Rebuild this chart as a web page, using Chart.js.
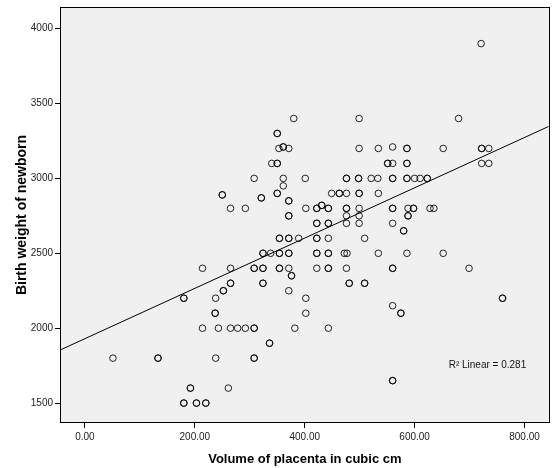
<!DOCTYPE html>
<html><head><meta charset="utf-8">
<script src="https://cdn.jsdelivr.net/npm/chart.js@4.4.1/dist/chart.umd.min.js"></script>
<style>html,body{margin:0;padding:0;background:#fff;}canvas{display:block;}</style>
</head><body>
<canvas id="c" width="553" height="468"></canvas>
<script>
// Volume of placenta (cubic cm) for each newborn
const placentaVolume = [
  250,265,214,265,265,252,180,238,237,214,243,265,51,133,238,192,261,180,203,220,
  380,499,350,353,361,371,499,534,560,340,350,551,560,
  308,361,401,476,498,521,533,560,361,
  350,449,463,476,499,534,321,371,
  292,402,422,443,476,499,560,431,371,476,499,
  422,443,476,499,560,354,371,389,422,443,509,
  324,338,354,371,422,443,472,477,534,
  308,324,354,371,422,443,476,560,376,324,481,509,
  371,402,402,560,278,292,308,382,443,336,308,560,
  680,586,652,722,735,586,722,735,586,600,610,623,
  588,598,628,635,588,580,586,652,699,760,575,721,
  // repeated cases (overlapping markers)
  250,265,252,180,237,133,192,180,203,220,350,361,350,551,476,498,560,350,463,499,
  321,371,422,443,476,560,431,371,422,443,354,371,422,324,354,371,422,443,308,324,
  354,443,560,376,324,481,509,308,336,308,560,586,722,586,586,623,598,588,580,760,575
];
// Birth weight of newborn (g)
const birthWeight = [
  2890,2800,2400,2400,2300,2250,2200,2200,2100,2000,2000,2000,1800,1800,1800,1600,1600,1500,1500,1500,
  3400,3400,3300,3200,3210,3200,3200,3200,3210,3100,3100,3100,3100,
  3000,3000,3000,3000,3000,3000,3000,3000,2950,
  2900,2900,2900,2900,2900,2900,2870,2850,
  2800,2800,2800,2800,2800,2800,2800,2820,2750,2750,2750,
  2700,2700,2700,2700,2700,2600,2600,2600,2600,2600,2600,
  2500,2500,2500,2500,2500,2500,2500,2500,2500,
  2400,2400,2400,2400,2400,2400,2400,2400,2350,2300,2300,2300,
  2250,2200,2100,2150,2000,2000,2000,2000,2000,1900,1800,1650,
  3400,3200,3200,3200,3200,3100,3100,3100,3000,3000,3000,3000,
  2800,2800,2800,2800,2750,2650,2500,2500,2400,2200,2100,3900,
  // repeated cases (overlapping markers)
  2890,2300,2250,2200,2100,1800,1600,1500,1500,1500,3300,3210,3100,3100,3000,3000,3000,2900,2900,2900,
  2870,2850,2800,2800,2800,2800,2820,2750,2700,2700,2600,2600,2600,2500,2500,2500,2500,2500,2400,2400,
  2400,2400,2400,2350,2300,2300,2300,2000,1900,1800,1650,3200,3200,3100,3000,3000,2800,2750,2650,2200,2100
];
// Fitted linear regression line (read at the axis limits)
const fitLineX = [-43.5, 844];
const fitLineY = [1857, 3347];
const xTicks = [0, 200, 400, 600, 800];
const yTicks = [1500, 2000, 2500, 3000, 3500, 4000];
const xTitle = 'Volume of placenta in cubic cm';
const yTitle = 'Birth weight of newborn';
const fitLabel = 'R\u00B2 Linear = 0.281';

const FONT = "Arial, 'Liberation Sans', sans-serif";
const points = placentaVolume.map((v, i) => ({x: v, y: birthWeight[i]}));
const line = fitLineX.map((v, i) => ({x: v, y: fitLineY[i]}));

const framePlugin = {
  id: 'frame',
  beforeDraw(chart) {
    const {ctx, chartArea: a} = chart;
    ctx.save();
    ctx.fillStyle = '#F0F0F0';
    ctx.fillRect(a.left, a.top, a.right - a.left, a.bottom - a.top);
    ctx.restore();
  },
  afterDraw(chart) {
    const {ctx, chartArea: a, scales} = chart;
    ctx.save();
    ctx.strokeStyle = '#000';
    ctx.lineWidth = 1;
    ctx.strokeRect(Math.round(a.left) - 0.5, Math.round(a.top) - 0.5,
                   Math.round(a.right - a.left) + 1, Math.round(a.bottom - a.top) + 1);
    ctx.fillStyle = '#111';
    ctx.font = '10px ' + FONT;
    ctx.textBaseline = 'middle';
    ctx.textAlign = 'left';
    ctx.fillText(fitLabel, scales.x.getPixelForValue(662), scales.y.getPixelForValue(1751));
    ctx.restore();
  }
};

new Chart(document.getElementById('c'), {
  type: 'scatter',
  data: {
    datasets: [
      {
        data: points,
        pointStyle: 'circle',
        pointRadius: 3.3,
        pointHoverRadius: 3.3,
        borderWidth: 1,
        borderColor: 'rgba(0,0,0,0.85)',
        backgroundColor: 'rgba(0,0,0,0)',
        showLine: false
      },
      {
        data: line,
        showLine: true,
        pointRadius: 0,
        borderColor: '#000',
        borderWidth: 1,
        fill: false
      }
    ]
  },
  options: {
    responsive: false,
    animation: false,
    events: [],
    layout: {padding: {top: 6, right: 2, left: 0, bottom: 0}},
    plugins: {legend: {display: false}, tooltip: {enabled: false}},
    scales: {
      x: {
        type: 'linear',
        min: -43.5,
        max: 844,
        afterFit(s) { s.height = 46; },
        afterBuildTicks(s) { s.ticks = xTicks.map(v => ({value: v})); },
        border: {display: false},
        grid: {drawOnChartArea: false, drawTicks: true, tickLength: 6, color: '#000', lineWidth: 1},
        ticks: {
          callback: v => Number(v).toFixed(2),
          font: {size: 10, family: FONT},
          color: '#222',
          padding: 3,
          maxRotation: 0,
          autoSkip: false
        },
        title: {
          display: true,
          text: xTitle,
          color: '#000',
          font: {size: 13, weight: 'bold', family: FONT},
          padding: {top: 0, bottom: 1}
        }
      },
      y: {
        type: 'linear',
        min: 1373.7,
        max: 4137.6,
        afterFit(s) { s.width = 61; },
        afterBuildTicks(s) { s.ticks = yTicks.map(v => ({value: v})); },
        border: {display: false},
        grid: {drawOnChartArea: false, drawTicks: true, tickLength: 6, color: '#000', lineWidth: 1},
        ticks: {
          callback: v => String(v),
          font: {size: 10, family: FONT},
          color: '#222',
          padding: 2,
          autoSkip: false
        },
        title: {
          display: true,
          text: yTitle,
          color: '#000',
          font: {size: 14, weight: 'bold', family: FONT},
          padding: {top: 13.6, bottom: 0}
        }
      }
    }
  },
  plugins: [framePlugin]
});
</script>
</body></html>
